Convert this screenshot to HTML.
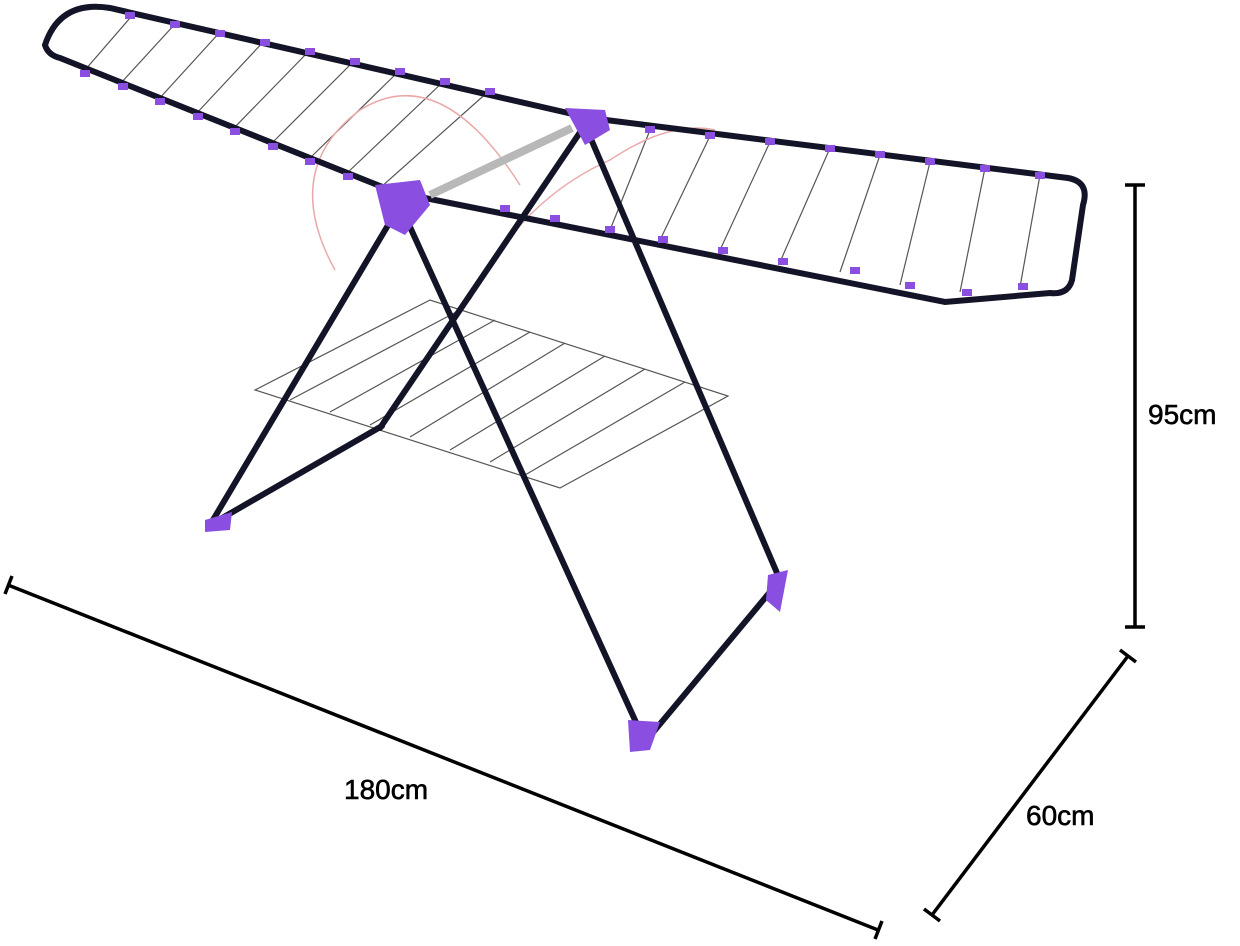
<!DOCTYPE html>
<html><head><meta charset="utf-8"><style>
html,body{margin:0;padding:0;background:#fff;width:1240px;height:946px;overflow:hidden}
svg{display:block}
text{font-family:"Liberation Sans",sans-serif;font-size:28px;fill:#000;stroke:#000;stroke-width:0.6}
</style></head><body>
<svg width="1240" height="946" viewBox="0 0 1240 946">
<g stroke="#555" stroke-width="1.2" fill="none">
<line x1="85" y1="70" x2="130" y2="18"/><line x1="120" y1="84" x2="175" y2="24"/>
<line x1="158" y1="100" x2="220" y2="32"/><line x1="195" y1="115" x2="265" y2="40"/>
<line x1="232" y1="130" x2="310" y2="50"/><line x1="270" y1="145" x2="355" y2="60"/>
<line x1="308" y1="160" x2="400" y2="70"/><line x1="345" y1="175" x2="445" y2="80"/>
<line x1="380" y1="188" x2="490" y2="90"/>
<line x1="610" y1="230" x2="650" y2="130"/><line x1="660" y1="240" x2="710" y2="136"/>
<line x1="720" y1="250" x2="770" y2="142"/><line x1="780" y1="262" x2="830" y2="148"/>
<line x1="840" y1="272" x2="880" y2="155"/><line x1="900" y1="285" x2="930" y2="162"/>
<line x1="960" y1="292" x2="985" y2="168"/><line x1="1020" y1="287" x2="1040" y2="175"/>
<polygon points="255,390 430,300 728,396 560,488"/>
<line x1="290" y1="400" x2="460" y2="310"/><line x1="330" y1="412" x2="495" y2="320"/>
<line x1="370" y1="425" x2="530" y2="332"/><line x1="410" y1="437" x2="565" y2="343"/>
<line x1="450" y1="450" x2="605" y2="356"/><line x1="490" y1="462" x2="645" y2="369"/>
<line x1="525" y1="475" x2="685" y2="382"/>
</g>
<g stroke="#e9a9a9" stroke-width="1.5" fill="none">
<path d="M335,270 Q280,170 360,110 Q440,60 520,185"/>
<path d="M470,300 Q520,200 610,160 Q670,120 715,130"/>
</g>
<g stroke="#141428" stroke-width="6" fill="none" stroke-linecap="round">
<path d="M590,118 L110,8 Q60,0 45,45 Q48,55 60,58 L395,192"/>
<path d="M590,118 L1068,178 Q1090,182 1083,205 L1072,280 Q1068,295 1050,293 L945,302 L395,192"/>
<line x1="400" y1="205" x2="210" y2="525"/>
<line x1="400" y1="205" x2="645" y2="742"/>
<line x1="585" y1="125" x2="380" y2="428"/>
<line x1="585" y1="125" x2="780" y2="580"/>
<line x1="210" y1="525" x2="382" y2="426"/>
<line x1="645" y1="742" x2="780" y2="580"/>
</g>
<line x1="430" y1="195" x2="572" y2="128" stroke="#b8b8b8" stroke-width="8"/>
<g fill="#8a4fe0">
<path d="M375,185 L420,180 L430,205 L405,235 L385,225 Z"/>
<path d="M565,108 L605,110 L610,130 L585,145 Z"/>
<path d="M205,520 L232,512 L230,530 L205,532 Z"/>
<path d="M628,720 L660,722 L650,750 L630,752 Z"/>
<path d="M768,575 L788,570 L780,612 L766,600 Z"/>
<rect x="80" y="70" width="10" height="7"/><rect x="118" y="83" width="10" height="7"/><rect x="155" y="98" width="10" height="7"/>
<rect x="193" y="113" width="10" height="7"/><rect x="230" y="128" width="10" height="7"/><rect x="268" y="143" width="10" height="7"/>
<rect x="305" y="158" width="10" height="7"/><rect x="343" y="173" width="10" height="7"/>
<rect x="125" y="12" width="10" height="7"/><rect x="170" y="21" width="10" height="7"/><rect x="215" y="30" width="10" height="7"/>
<rect x="260" y="39" width="10" height="7"/><rect x="305" y="48" width="10" height="7"/><rect x="350" y="58" width="10" height="7"/>
<rect x="395" y="68" width="10" height="7"/><rect x="440" y="78" width="10" height="7"/><rect x="485" y="88" width="10" height="7"/>
<rect x="500" y="205" width="10" height="7"/><rect x="550" y="215" width="10" height="7"/><rect x="605" y="226" width="10" height="7"/>
<rect x="658" y="236" width="10" height="7"/><rect x="718" y="247" width="10" height="7"/><rect x="778" y="258" width="10" height="7"/>
<rect x="850" y="267" width="10" height="7"/><rect x="905" y="282" width="10" height="7"/><rect x="962" y="289" width="10" height="7"/>
<rect x="1018" y="283" width="10" height="7"/>
<rect x="645" y="126" width="10" height="7"/><rect x="705" y="132" width="10" height="7"/><rect x="765" y="138" width="10" height="7"/>
<rect x="825" y="145" width="10" height="7"/><rect x="875" y="151" width="10" height="7"/><rect x="925" y="158" width="10" height="7"/>
<rect x="980" y="165" width="10" height="7"/><rect x="1035" y="172" width="10" height="7"/>
</g>
<g stroke="#000" stroke-width="3.5">
<line x1="1135" y1="185" x2="1135" y2="627"/>
<line x1="1125" y1="185" x2="1145" y2="185"/><line x1="1125" y1="627" x2="1145" y2="627"/>
<line x1="1128" y1="656" x2="932" y2="915"/>
<line x1="1120" y1="650" x2="1136" y2="662"/><line x1="924" y1="909" x2="940" y2="921"/>
<line x1="8" y1="585" x2="878" y2="930"/>
<line x1="12" y1="576" x2="5" y2="594"/><line x1="882" y1="921" x2="875" y2="939"/>
</g>
<text x="1148" y="424">95cm</text>
<text x="1026" y="825">60cm</text>
<text x="344" y="799">180cm</text>
</svg>
</body></html>
